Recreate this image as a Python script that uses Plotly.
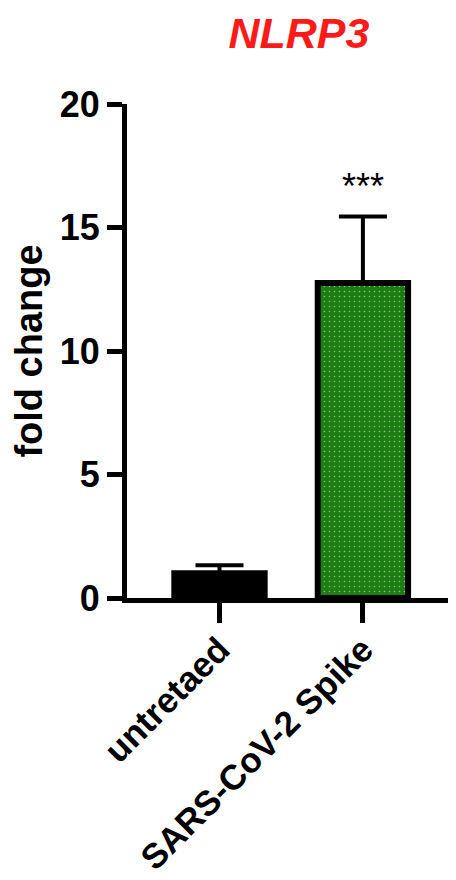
import plotly.graph_objects as go

groups = ["untretaed", "SARS-CoV-2 Spike"]
fold_change = [1.0, 12.75]
sem = [0.33, 2.7]
signif = ["", "***"]
fills = ["black", "#1b7d12"]

font = "Arial, Liberation Sans, sans-serif"

fig = go.Figure()
fig.add_trace(go.Bar(
    x=groups, y=fold_change, width=0.63,
    marker=dict(color=fills, line=dict(color="black", width=6),
                pattern=dict(shape=["", "."], fgcolor="#e3a8e8", size=5, solidity=0.08)),
    error_y=dict(type="data", array=sem, symmetric=False, arrayminus=[0, 0],
                 color="black", thickness=4, width=24),
))
for g, v, e, s in zip(groups, fold_change, sem, signif):
    if s:
        fig.add_annotation(x=g, y=v + e, text=s, showarrow=False, yshift=30,
                           font=dict(size=36, color="black", family=font))

fig.update_layout(
    width=456, height=880, plot_bgcolor="white", paper_bgcolor="white",
    margin=dict(l=119, r=0, t=96, b=290), showlegend=False,
    title=dict(text="<b><i>NLRP3</i></b>", x=0.638, xanchor="center", y=0.972, yanchor="middle",
               font=dict(size=43, color="#ff1a1a", family=font)),
    font=dict(family=font, color="black"),
)
fig.update_yaxes(range=[0, 20], tickvals=[0, 5, 10, 15, 20], showgrid=False, zeroline=False,
                 showline=True, linewidth=5, linecolor="black",
                 ticks="outside", ticklen=15, tickwidth=5, tickcolor="black",
                 tickfont=dict(size=36, family=font, weight="bold"),
                 title=dict(text="<b>fold change</b>", font=dict(size=38, family=font), standoff=8))
fig.update_xaxes(range=[-0.645, 1.705], showgrid=False, showline=True, linewidth=5,
                 linecolor="black", ticks="outside", ticklen=20, tickwidth=5, tickcolor="black",
                 tickangle=-45, ticklabelstandoff=-8,
                 tickfont=dict(size=35, family=font, weight="bold"))

fig.write_html("out.html")
